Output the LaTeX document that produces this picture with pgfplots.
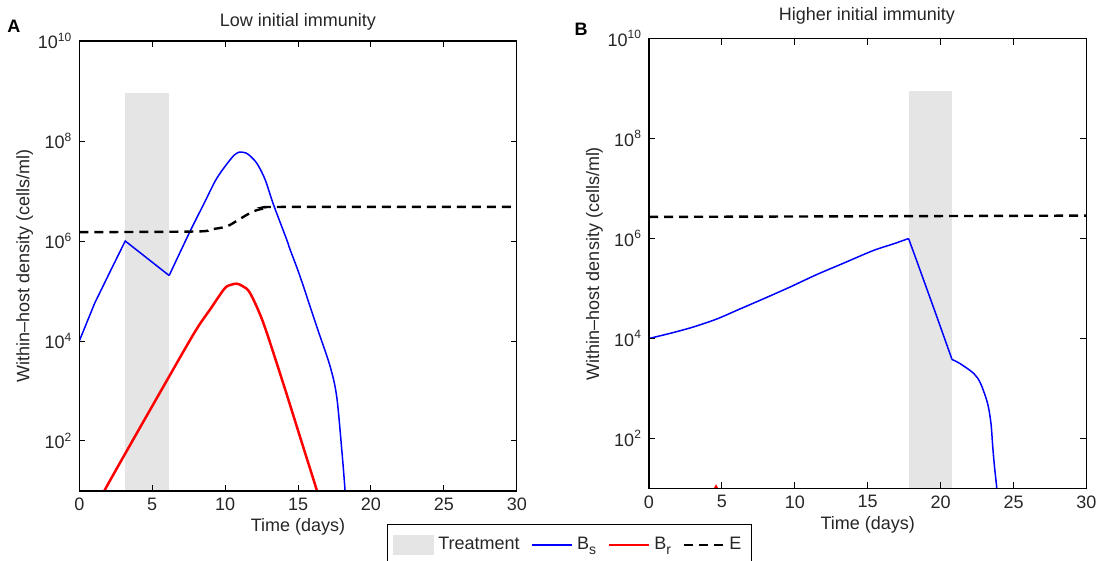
\documentclass[border=0pt]{standalone}
\usepackage{pgfplots}
\pgfplotsset{compat=1.18}
\usepackage{fontspec}
\setmainfont{Liberation Sans}
\definecolor{treat}{RGB}{229,229,229}
\definecolor{txt}{RGB}{38,38,38}

\pgfplotsset{
  panelax/.style={
    scale only axis, width=218.75pt, height=225pt,
    xmin=0, xmax=30, ymin=10, ymax=1e10,
    xtick={0,5,10,15,20,25,30},
    xticklabels={0,5,10,15,20,25,30},
    ytick={1e2,1e4,1e6,1e8,1e10},
    yticklabels={10\textsuperscript{2},10\textsuperscript{4},10\textsuperscript{6},10\textsuperscript{8},10\textsuperscript{10}},
    yminorticks=false,
    axis on top,
    tick align=inside, tick pos=both, major tick length=3pt,
    axis line style={line width=0.6pt},
    every tick/.style={black, line width=0.5pt},
    tick label style={font=\fontsize{9}{10}\selectfont, text=txt},
    label style={font=\fontsize{9}{10}\selectfont, text=txt},
    xlabel={Time (days)},
    ylabel={Within–host density (cells/ml)},
    xlabel style={yshift=3pt},
    ylabel style={yshift=-4.5pt},
  },
}
\tikzset{
  bs/.style={blue, line width=0.75pt},
  br/.style={red, line width=1.25pt},
  ee/.style={black, line width=1.2pt, dash pattern=on 4.5pt off 3pt},
  sm/.style={smooth, tension=0.5},
}
\newcommand{\sub}[1]{\raisebox{-2.5pt}{\fontsize{7}{8}\selectfont #1}}

\begin{document}
\begin{tikzpicture}
\begin{semilogyaxis}[panelax, at={(39.65pt,-245.5pt)}, anchor=south west,
  legend style={at={(0.703,-0.073)}, anchor=north west, draw=black, line width=0.5pt,
    font=\fontsize{9}{10}\selectfont, text=txt, legend columns=-1, inner ysep=4.5pt,
    /tikz/every even column/.append style={column sep=4pt}},
  legend image code/.code={\draw[#1] (0cm,0cm) -- (0.7cm,0cm);},
  ]
  \addplot[fill=treat, draw=none, legend image code/.code={\fill[treat] (0cm,-0.17cm) rectangle (0.72cm,0.17cm);}]
    coordinates {(3.15,10) (3.15,9e8) (6.16,9e8) (6.16,10)} -- cycle;
  % B_s: straight through treatment, smooth afterwards
  \addplot[bs] coordinates {(0,1e4) (1.06,5.75e4) (2.1,2.4e5) (3.15,1e6) (6.16,2.04e5)};
  \addplot[bs, sm, forget plot] coordinates {
    (6.16,2.04e5) (7.59,1.55e6) (8.6,6.0e6) (9.3,1.55e7)
    (9.8,2.6e7) (10.34,4.2e7) (10.65,5.3e7) (10.97,6.0e7) (11.28,5.9e7) (11.59,5.4e7)
    (12.17,3.6e7) (12.74,1.7e7) (13.31,5.4e6) (14.22,1.07e6) (14.45,6.8e5) (15.14,1.95e5)
    (16.28,1.95e4) (17.2,3.1e3) (17.65,776) (18.0,66) (18.22,10.5) (18.26,5)
  };
  \addplot[br, sm] coordinates {
    (1.5,6) (1.71,10) (6.16,1950) (8.0,1.65e4) (9.0,4.4e4) (9.96,1.12e5) (10.4,1.33e5)
    (10.8,1.4e5) (11.2,1.25e5) (11.71,9.1e4) (12.62,2.3e4) (13.99,1.4e3) (15.14,120)
    (16.28,10.5) (16.5,6)
  };
  \addplot[ee, sm] coordinates {
    (0,1.5e6) (8.0,1.55e6) (8.96,1.7e6) (10.1,1.95e6) (11.0,2.75e6) (11.93,3.9e6)
    (12.85,4.6e6) (14.0,4.8e6) (30,4.8e6)
  };
  \legend{Treatment, B\sub{s}, B\sub{r}, E}
\end{semilogyaxis}

\begin{semilogyaxis}[panelax, at={(324.5pt,-244.25pt)}, anchor=south west]
  \addplot[fill=treat, draw=none]
    coordinates {(17.8,10) (17.8,9e8) (20.8,9e8) (20.8,10)} -- cycle;
  \addplot[bs, sm] coordinates {
    (0,1.0e4) (1.55,1.29e4) (3.04,1.7e4) (4.64,2.45e4) (6.24,3.9e4) (7.84,6.2e4)
    (9.67,1.07e5) (11.5,1.9e5) (13.33,3.2e5) (15.38,5.75e5) (16.76,7.8e5) (17.8,1.0e6)
  };
  \addplot[bs] coordinates {(17.8,1.0e6) (18.37,3.5e5) (19.67,3.1e4) (20.78,3.8e3)};
  \addplot[bs, sm] coordinates {
    (20.78,3.8e3) (21.32,3.16e3) (22.27,2.0e3) (22.74,1.26e3)
    (23.22,500) (23.45,200) (23.57,69) (23.69,27.5) (23.85,10) (23.9,5)
  };
  \addplot[br] coordinates {(4.45,9) (4.6,10.8) (4.75,9)};
  \addplot[ee] coordinates {(0,2.7e6) (30,2.87e6)};
\end{semilogyaxis}

\node[font=\fontsize{9}{10}\selectfont, text=txt] at (149pt,-10.8pt) {Low initial immunity};
\node[font=\fontsize{9}{10}\selectfont, text=txt] at (433.5pt,-8pt) {Higher initial immunity};
\node[font=\bfseries\fontsize{9}{10}\selectfont] at (7pt,-13pt) {A};
\node[font=\bfseries\fontsize{9}{10}\selectfont] at (290.5pt,-14.5pt) {B};

\pgfresetboundingbox
\path[use as bounding box] (0,0) rectangle (550pt,-280.5pt);
\end{tikzpicture}
\end{document}
